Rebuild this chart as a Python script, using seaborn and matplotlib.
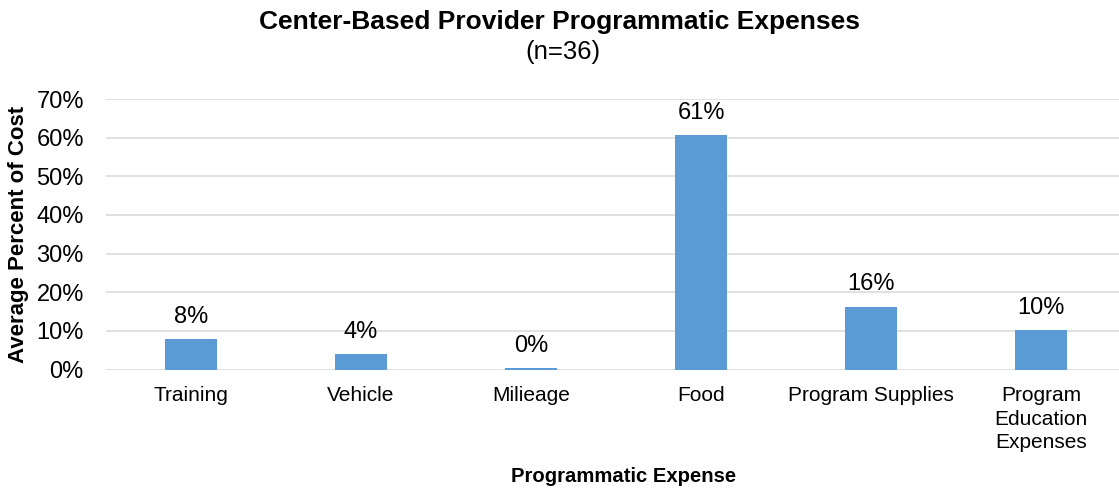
import matplotlib
matplotlib.use("Agg")
import matplotlib.pyplot as plt
import seaborn as sns
import pandas as pd
from matplotlib.ticker import PercentFormatter

categories = ["Training", "Vehicle", "Milieage", "Food", "Program Supplies",
              "Program\nEducation\nExpenses"]
values = [0.078, 0.040, 0.004, 0.606, 0.163, 0.103]
yticks = [0.0, 0.1, 0.2, 0.3, 0.4, 0.5, 0.6, 0.7]

sns.set_theme(style="white")
plt.rcParams["font.family"] = ["Liberation Sans", "DejaVu Sans"]

df = pd.DataFrame({"Programmatic Expense": categories, "Average Percent of Cost": values})

fig = plt.figure(figsize=(11.19, 4.91), dpi=100)
ax = fig.add_axes([106 / 1119, 121.5 / 491, 1020 / 1119, 270.5 / 491])

sns.barplot(data=df, x="Programmatic Expense", y="Average Percent of Cost",
            color="#5B9BD5", saturation=1, width=0.31, ax=ax, zorder=3,
            linewidth=0, edgecolor="#5B9BD5")

ax.set_ylim(0, 0.7)
ax.set_xlim(-0.5, 5.5)
ax.set_yticks(yticks)
ax.yaxis.set_major_formatter(PercentFormatter(1.0, decimals=0))
ax.grid(axis="y", color="#D9D9D9", linewidth=1.1, zorder=0)
ax.grid(axis="x", visible=False)
for s in ax.spines.values():
    s.set_visible(False)
ax.tick_params(axis="both", length=0, colors="black")
ax.tick_params(axis="y", labelsize=17, pad=16)
ax.tick_params(axis="x", labelsize=15, pad=12)
for lab in ax.get_xticklabels():
    lab.set_linespacing(1.3)

for cont in ax.containers:
    ax.bar_label(cont, labels=[f"{v:.0%}" for v in values], padding=8,
                 fontsize=17, color="black")

ax.set_ylabel("Average Percent of Cost", fontsize=16, fontweight="bold",
              color="black", labelpad=5)
ax.set_xlabel("Programmatic Expense", fontsize=14.6, fontweight="bold",
              color="black")
ax.xaxis.set_label_coords((624 - 106) / 1020, -(476 - 369.5) / 270.5)
ax.xaxis.label.set_va("center")

fig.text(0.5, 1 - 22 / 491, "Center-Based Provider Programmatic Expenses",
         ha="center", va="center", fontsize=19, fontweight="bold", color="black")
fig.text(563 / 1119, 1 - 52 / 491, "(n=36)", ha="center", va="center",
         fontsize=18.5, color="black")

fig.savefig("out.png", dpi=100)
